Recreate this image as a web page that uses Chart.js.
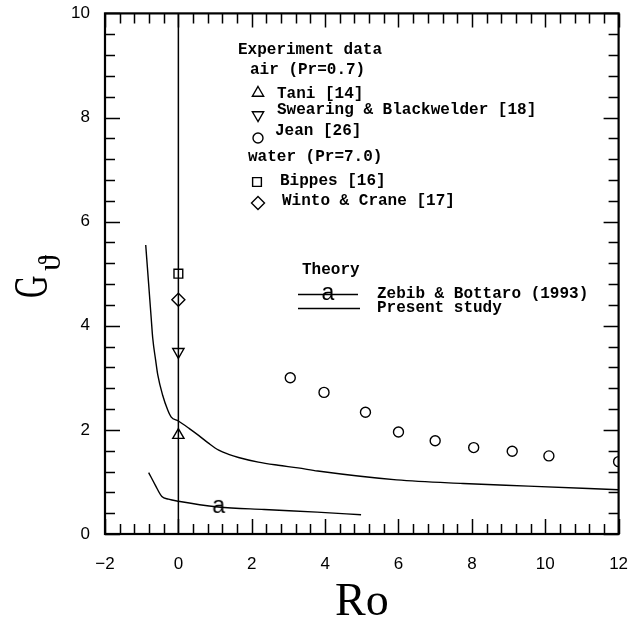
<!DOCTYPE html>
<html>
<head>
<meta charset="utf-8">
<script src="https://cdn.jsdelivr.net/npm/chart.js@4/dist/chart.umd.min.js"></script>
<style>
  html, body { margin: 0; padding: 0; background: #fff; }
</style>
</head>
<body>
<canvas id="roChart" width="632" height="626"></canvas>
<script>
// axis ranges and labelled ticks
const xTicks = [-2, 0, 2, 4, 6, 8, 10, 12];
const yTicks = [0, 2, 4, 6, 8, 10];

// Present study (theory curve)
const presentX = [-0.89, -0.81, -0.74, -0.70, -0.62, -0.56, -0.43, -0.29, -0.20, 0, 0.29, 0.56, 0.83, 1.10, 1.37, 1.64, 2.18, 2.72, 3.26, 3.80, 5.95, 7.76, 9.54, 12.0];
const presentY = [5.55, 4.80, 4.14, 3.77, 3.34, 3.05, 2.67, 2.38, 2.25, 2.17, 2.03, 1.89, 1.74, 1.61, 1.53, 1.47, 1.38, 1.32, 1.27, 1.21, 1.04, 0.97, 0.92, 0.85];

// Zebib & Bottaro (1993)
const zebibX = [-0.81, -0.63, -0.45, -0.27, 0, 1.08, 2.34, 3.78, 4.98];
const zebibY = [1.18, 0.94, 0.72, 0.67, 0.63, 0.52, 0.47, 0.42, 0.37];
const zebibMarkX = [1.1];
const zebibMarkY = [0.52];

// Ro = 0 reference line
const zeroLineX = [0, 0];
const zeroLineY = [0, 10];

// experiment data
const taniX = [0];        const taniY = [1.9];
const swearingX = [0];    const swearingY = [3.5];
const jeanX = [3.05, 3.97, 5.1, 6.0, 7.0, 8.05, 9.1, 10.1, 12.0];
const jeanY = [3.0, 2.72, 2.34, 1.96, 1.79, 1.66, 1.59, 1.50, 1.39];
const bippesX = [0];      const bippesY = [5.0];
const wintoX = [0];       const wintoY = [4.5];

function pts(xs, ys) {
    return xs.map((x, i) => ({ x: x, y: ys[i] }));
}

function letterMarker(ch) {
    const c = document.createElement('canvas');
    c.width = 26;
    c.height = 26;
    const g = c.getContext('2d');
    g.font = '23px "Liberation Sans"';
    g.textAlign = 'center';
    g.textBaseline = 'alphabetic';
    g.fillStyle = '#000';
    g.fillText(ch, 13, 13 + 0.26 * 23);
    return c;
}

const aMark = letterMarker('a');

function lineSet(data, width) {
    return {
        data: data,
        showLine: true,
        pointRadius: 0,
        borderColor: '#000',
        borderWidth: width,
        cubicInterpolationMode: 'monotone'
    };
}

function markSet(data, style, radius, rotation) {
    return {
        data: data,
        showLine: false,
        pointStyle: style,
        pointRadius: radius,
        pointRotation: rotation || 0,
        pointBorderWidth: 1.4,
        pointBorderColor: '#000',
        pointBackgroundColor: 'rgba(0,0,0,0)'
    };
}

// inward ticks on all four sides plus the frame
const frameTicks = {
    id: 'frameTicks',
    afterDraw(chart) {
        const { ctx, chartArea: a, scales: { x, y } } = chart;
        ctx.save();
        ctx.strokeStyle = '#000';
        ctx.lineWidth = 1.5;
        ctx.beginPath();
        for (let i = 0; i <= 35; i++) {
            const px = Math.round(x.getPixelForValue(-2 + i * 0.4)) + 0.5;
            const major = i % 5 === 0;
            ctx.moveTo(px, a.bottom);
            ctx.lineTo(px, a.bottom - (major ? 15 : 10));
            ctx.moveTo(px, a.top);
            ctx.lineTo(px, a.top + (major ? 14 : 10));
        }
        for (let i = 0; i <= 25; i++) {
            const py = Math.round(y.getPixelForValue(i * 0.4)) + 0.5;
            const major = i % 5 === 0;
            ctx.moveTo(a.left, py);
            ctx.lineTo(a.left + (major ? 15 : 10), py);
            ctx.moveTo(a.right, py);
            ctx.lineTo(a.right - (major ? 15 : 10), py);
        }
        ctx.stroke();
        ctx.lineWidth = 2.2;
        ctx.strokeRect(a.left, a.top, a.right - a.left, a.bottom - a.top);
        ctx.restore();
    }
};

// in-plot legend and the y title
const notes = {
    id: 'notes',
    afterDraw(chart) {
        const ctx = chart.ctx;
        ctx.save();
        ctx.fillStyle = '#000';
        ctx.strokeStyle = '#000';
        ctx.textAlign = 'left';
        ctx.textBaseline = 'alphabetic';
        ctx.font = 'bold 16px "Liberation Mono"';

        ctx.fillText('Experiment data', 238, 54);
        ctx.fillText('air (Pr=0.7)', 250, 74);
        ctx.fillText('Tani [14]', 277, 98);
        ctx.fillText('Swearing & Blackwelder [18]', 277, 114);
        ctx.fillText('Jean [26]', 275, 135);
        ctx.fillText('water (Pr=7.0)', 248, 161);
        ctx.fillText('Bippes [16]', 280, 185);
        ctx.fillText('Winto & Crane [17]', 282, 205);
        ctx.fillText('Theory', 302, 274);
        ctx.fillText('Zebib & Bottaro (1993)', 377, 298);
        ctx.fillText('Present study', 377, 312);

        ctx.fillStyle = 'rgba(0,0,0,0)';
        const sym = (style, r, rot, px, py) => {
            ctx.lineWidth = 1.4;
            Chart.helpers.drawPoint(ctx, { pointStyle: style, radius: r, rotation: rot, borderWidth: 1.4 }, px, py);
        };
        sym('triangle', 6.5, 0, 258, 93);
        sym('triangle', 6.5, 180, 258, 115);
        sym('circle', 5, 0, 258, 138);
        sym('rect', 6.2, 0, 257, 182);
        sym('rectRot', 6.5, 0, 258, 203);

        ctx.lineWidth = 1.3;
        ctx.beginPath();
        ctx.moveTo(298, 294.5);
        ctx.lineTo(358, 294.5);
        ctx.moveTo(298, 308.5);
        ctx.lineTo(360, 308.5);
        ctx.stroke();
        ctx.drawImage(aMark, 328 - 13, 294 - 13);

        // G with subscript theta, rotated
        ctx.fillStyle = '#000';
        ctx.translate(47, 298);
        ctx.rotate(-Math.PI / 2);
        ctx.save();
        ctx.scale(0.65, 1);
        ctx.font = '48px "Liberation Serif"';
        ctx.fillText('G', 0, 0);
        ctx.restore();
        ctx.font = '32px "Liberation Serif"';
        ctx.fillText('\u03D1', 27, 13);
        ctx.restore();
    }
};

const tickFont = { family: '"Liberation Sans", Arial, sans-serif', size: 17 };

const configChart = {
    type: 'scatter',
    data: {
        datasets: [
            lineSet(pts(zeroLineX, zeroLineY), 1.5),
            lineSet(pts(presentX, presentY), 1.4),
            lineSet(pts(zebibX, zebibY), 1.4),
            markSet(pts(zebibMarkX, zebibMarkY), aMark, 12),
            markSet(pts(taniX, taniY), 'triangle', 6.5),
            markSet(pts(swearingX, swearingY), 'triangle', 6.5, 180),
            markSet(pts(jeanX, jeanY), 'circle', 5),
            markSet(pts(bippesX, bippesY), 'rect', 6.2),
            markSet(pts(wintoX, wintoY), 'rectRot', 6.5)
        ]
    },
    options: {
        responsive: false,
        animation: false,
        devicePixelRatio: 1,
        layout: { padding: { top: 13, right: 8, left: 0, bottom: 0 } },
        plugins: {
            legend: { display: false },
            tooltip: { enabled: false }
        },
        scales: {
            x: {
                type: 'linear',
                min: -2,
                max: 12,
                afterBuildTicks: (s) => { s.ticks = xTicks.map(v => ({ value: v })); },
                ticks: {
                    color: '#000',
                    font: tickFont,
                    padding: 20,
                    maxRotation: 0,
                    autoSkip: false,
                    callback: (v) => String(v).replace('-', '\u2212')
                },
                grid: { display: false, drawTicks: false },
                border: { display: false },
                title: {
                    display: true,
                    text: 'Ro',
                    color: '#000',
                    font: { family: '"Liberation Serif", serif', size: 46, lineHeight: 1 },
                    padding: { top: 0, bottom: 0 }
                },
                afterFit: (s) => { s.height = 92; s.paddingLeft = 0; s.paddingRight = 0; }
            },
            y: {
                type: 'linear',
                min: 0,
                max: 10,
                afterBuildTicks: (s) => { s.ticks = yTicks.map(v => ({ value: v })); },
                ticks: {
                    color: '#000',
                    font: tickFont,
                    padding: 15,
                    autoSkip: false
                },
                grid: { display: false, drawTicks: false },
                border: { display: false },
                afterFit: (s) => { s.width = 105; s.paddingTop = 0; s.paddingBottom = 0; }
            }
        }
    },
    plugins: [frameTicks, notes]
};

let chart = new Chart(document.getElementById('roChart'), configChart);
</script>
</body>
</html>
